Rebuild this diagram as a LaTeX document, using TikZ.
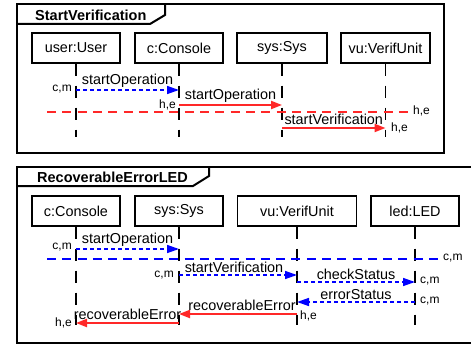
\documentclass[tikz,border=0pt]{standalone}
\usepackage{fontspec}
\setmainfont{Liberation Sans}
\usetikzlibrary{arrows.meta}
\definecolor{msgred}{RGB}{255,40,40}
\definecolor{msgblue}{RGB}{0,0,255}
\begin{document}
\begin{tikzpicture}[x=1pt,y=-1pt,
  frame/.style={draw=black, line width=2pt},
  lbox/.style={draw=black, line width=1.4pt, minimum height=30pt, inner sep=0pt, font=\fontsize{14.4}{16}\selectfont},
  lifeline/.style={draw=black, line width=1.4pt, dash pattern=on 12pt off 10pt},
  title/.style={font=\fontsize{14.5}{16}\selectfont\bfseries, inner sep=0pt, anchor=west},
  msglabel/.style={font=\fontsize{14.4}{16}\selectfont, inner sep=0pt, above=2pt},
  small/.style={font=\fontsize{12}{13}\selectfont, inner sep=0pt},
  bluemsg/.style={draw=msgblue, line width=1.5pt, dash pattern=on 4pt off 3pt, -{Triangle[length=12pt,width=8pt]}},
  redmsg/.style={draw=msgred, line width=2pt, -{Triangle[length=11pt,width=8pt]}},
  redline/.style={draw=msgred, line width=1.5pt, dash pattern=on 9pt off 6.3pt},
  blueline/.style={draw=msgblue, line width=1.5pt, dash pattern=on 9pt off 6.28pt}
]
\useasboundingbox (0,0) rectangle (471,345);
\clip (0,0) rectangle (471,345);

% ---------- Frame 1 ----------
\draw[frame] (17,4) rectangle (444,152.5);
\draw[frame] (17,24) -- (150,24) -- (165,15) -- (165,4);
\node[title] (t1) at (35,15) {StartVerification};

\node[lbox, minimum width=88pt] (user) at (76,48) {user:User};
\node[lbox, minimum width=88pt] (c1) at (179,48) {c:Console};
\node[lbox, minimum width=90pt] (s1) at (282,48) {sys:Sys};
\node[lbox, minimum width=89pt] (v1) at (385.5,48) {vu:VerifUnit};

\foreach \n in {user,c1,s1,v1}{
  \coordinate (\n-end) at (\n.south |- 0,137);
  \draw[lifeline] (\n.south) -- (\n-end);
}

\draw[bluemsg] (user.south |- 0,90) -- node[msglabel]{startOperation} (c1.south |- 0,90);
\node[small, anchor=east] (l1) at (72,89) {c,m};

\draw[redmsg] (c1.south |- 0,105) -- node[msglabel]{startOperation} (s1.south |- 0,105);
\node[small, anchor=east] (l2) at (176,105) {h,e};

\coordinate (r1a) at (47,112);
\coordinate (r1b) at (408,112);
\draw[redline] (r1a) -- (r1b);
\node[small, anchor=west] (l3) at (413,111) {h,e};

\draw[redmsg] (s1.south |- 0,128) -- node[msglabel]{startVerification} (v1.south |- 0,128);
\node[small, anchor=west] (l4) at (391,128) {h,e};

% ---------- Frame 2 ----------
\draw[frame] (480,167) -- (17,167) -- (17,343) -- (480,343);
\draw[frame] (17,186) -- (193,186) -- (209,176) -- (209,167);
\node[title] (t2) at (37,177) {RecoverableErrorLED};

\node[lbox, minimum width=88pt] (c2) at (76,211) {c:Console};
\node[lbox, minimum width=88pt] (s2) at (179,211) {sys:Sys};
\node[lbox, minimum width=119pt] (v2) at (297,211) {vu:VerifUnit};
\node[lbox, minimum width=88pt] (d2) at (415,211) {led:LED};

\foreach \n in {c2,s2,v2,d2}{
  \coordinate (\n-end) at (\n.south |- 0,325);
  \draw[lifeline] (\n.south) -- (\n-end);
}

\draw[bluemsg] (c2.south |- 0,249) -- node[msglabel]{startOperation} (s2.south |- 0,249);
\node[small, anchor=east] (k1) at (72,247) {c,m};

\coordinate (b1a) at (47,259);
\coordinate (b1b) at (438,259);
\draw[blueline] (b1a) -- (b1b);
\node[small, anchor=west] (k2) at (443,258) {c,m};

\draw[bluemsg] (s2.south |- 0,275) -- node[msglabel, xshift=-4pt]{startVerification} (v2.south |- 0,275);
\node[small, anchor=east] (k3) at (174,275) {c,m};

\draw[bluemsg] (v2.south |- 0,282) -- node[msglabel]{checkStatus} (d2.south |- 0,282);
\node[small, anchor=west] (k4) at (420,281) {c,m};

\draw[bluemsg] (d2.south |- 0,302) -- node[msglabel]{errorStatus} (v2.south |- 0,302);
\node[small, anchor=west] (k5) at (420,301) {c,m};

\draw[redmsg] (v2.south |- 0,314) -- node[msglabel, xshift=4pt]{recoverableError} (s2.south |- 0,314);
\node[small, anchor=west] (k6) at (300,316) {h,e};

\draw[redmsg] (s2.south |- 0,323) -- node[msglabel]{recoverableError} (c2.south |- 0,323);
\node[small, anchor=east] (k7) at (72,323) {h,e};
\end{tikzpicture}
\end{document}
